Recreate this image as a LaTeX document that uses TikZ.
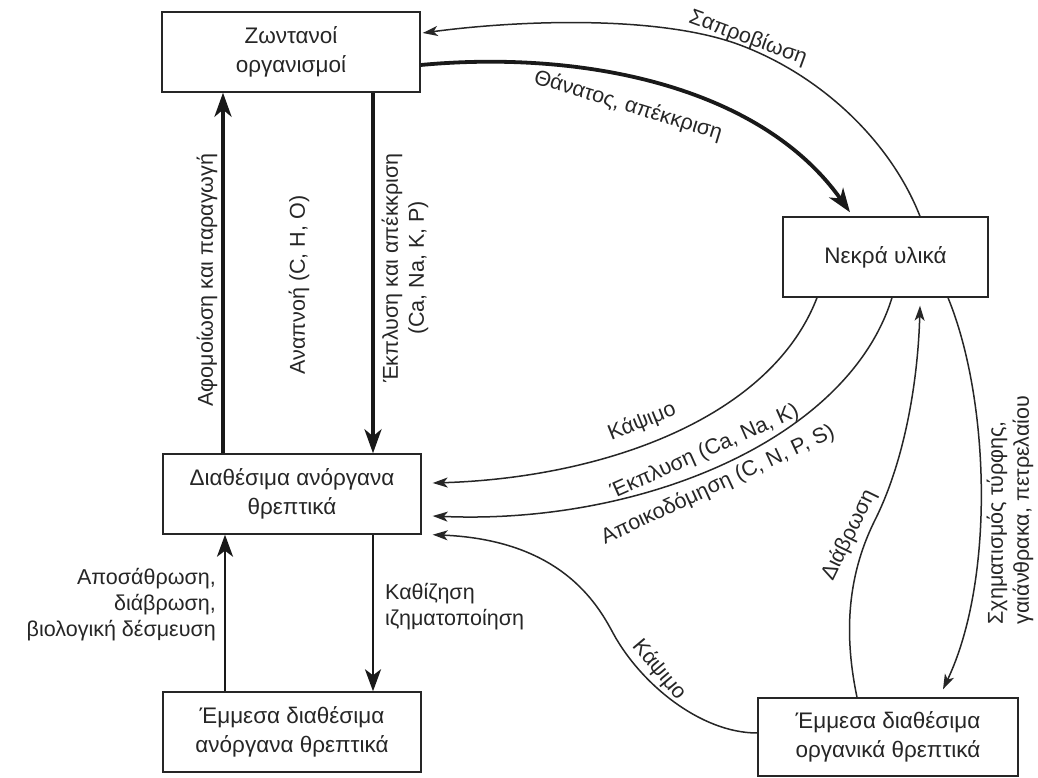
\documentclass[tikz,border=0pt]{standalone}
\usepackage{fontspec}
\setmainfont{Liberation Sans}
\usetikzlibrary{arrows.meta}
\begin{document}
\begin{tikzpicture}[x=1pt,y=-1pt,
  box/.style={draw=black!85, line width=1.4pt, minimum width=258pt, minimum height=80pt,
    align=center, inner sep=0pt, text=black!85, font=\fontsize{22.5}{29}\selectfont},
  lbl/.style={inner sep=0pt, text=black!85, font=\fontsize{21.5}{26}\selectfont},
  heavy/.style={draw=black!90, line width=3.8pt, -{Stealth[length=24pt,width=17pt,inset=7pt]}},
  medium/.style={draw=black!90, line width=2.6pt, -{Stealth[length=22pt,width=16pt,inset=6pt]}},
  light/.style={draw=black!85, line width=1.5pt, -{Stealth[length=15pt,width=10pt,inset=4pt]}},
]
\fill[white] (0,0) rectangle (1038,778);
\useasboundingbox (0,0) rectangle (1038,778);

% compartments
\node[box] (zo) at (291,52) {Ζωντανοί\\οργανισμοί};
\node[box, minimum width=205pt] (ne) at (885.5,257) {Νεκρά υλικά};
\node[box] (di) at (292,494) {Διαθέσιμα ανόργανα\\θρεπτικά};
\node[box] (ea) at (292,732) {Έμμεσα διαθέσιμα\\ανόργανα θρεπτικά};
\node[box, minimum width=260pt, minimum height=78pt] (eo) at (888,737) {Έμμεσα διαθέσιμα\\οργανικά θρεπτικά};

% vertical fluxes
\draw[heavy] ([xshift=-69pt]di.north) -- ([xshift=-68pt]zo.south);
\draw[heavy] ([xshift=82pt]zo.south) -- ([xshift=81pt]di.north);
\draw[medium] ([xshift=-67pt]ea.north) -- ([xshift=-67pt]di.south);
\draw[medium] ([xshift=81pt]di.south) -- ([xshift=81pt]ea.north);

% upper arcs
\draw[light] ([xshift=34.5pt]ne.north) .. controls (890,140) and (820,75) .. (740,45)
  .. controls (660,15) and (520,20) .. ([xshift=2pt,yshift=19pt]zo.east);
\draw[heavy] ([yshift=-13pt]zo.east) .. controls (580,50) and (760,85) .. ([xshift=-35.5pt,yshift=4pt]ne.north);

% from dead matter to available nutrients
\draw[light] ([xshift=-68.5pt]ne.south) .. controls (770,420) and (600,478) .. ([xshift=11pt,yshift=11pt]di.east);
\draw[light] ([xshift=6.5pt]ne.south) .. controls (848,440) and (640,525) .. ([xshift=11pt,yshift=-22pt]di.east);

% from indirectly available organic nutrients
\draw[light] ([yshift=4pt]eo.west) .. controls (700,733) and (640,683) .. (613,633)
  .. controls (597,603) and (560,540) .. ([xshift=11pt]di.south east);
\draw[light] ([xshift=-31pt]eo.north) .. controls (845,640) and (845,580) .. (875,520)
  .. controls (905,460) and (918,380) .. ([xshift=34.5pt,yshift=-8pt]ne.south);
\draw[light] ([xshift=62.5pt]ne.south) .. controls (990,400) and (995,580) .. ([xshift=55pt,yshift=8pt]eo.north);

% labels
\node[lbl, rotate=-20] (lsap) at (748,38) {Σαπροβίωση};
\node[lbl, rotate=-17] (lthan) at (628,106) {Θάνατος, απέκκριση};
\node[lbl, rotate=90] (lafo) at (207,280) {Αφομοίωση και παραγωγή};
\node[lbl, rotate=90] (lanap) at (299,285) {Αναπνοή (C, H, O)};
\node[lbl, rotate=90, align=center] (lekp) at (405,268) {Έκπλυση και απέκκριση\\(Ca, Na, K, P)};
\node[lbl, rotate=22] (lkap1) at (642,422) {Κάψιμο};
\node[lbl, rotate=24] (lekp2) at (705,452) {Έκπλυση (Ca, Na, K)};
\node[lbl, rotate=25] (lapo) at (718,485) {Αποικοδόμηση (C, N, P, S)};
\node[lbl, rotate=-50] (lkap2) at (659,670) {Κάψιμο};
\node[lbl, rotate=64] (ldia) at (849,535) {Διάβρωση};
\node[lbl, rotate=90, align=left] (lsxi) at (1010,510) {Σχηματισμός τύρφης,\\γαιάνθρακα, πετρελαίου};
\node[lbl, align=left, anchor=west] (lkath) at (385,607) {Καθίζηση\\ιζηματοποίηση};
\node[lbl, align=right, anchor=east] (lapos) at (216,605) {Αποσάθρωση,\\διάβρωση,\\βιολογική δέσμευση};
\end{tikzpicture}
\end{document}
